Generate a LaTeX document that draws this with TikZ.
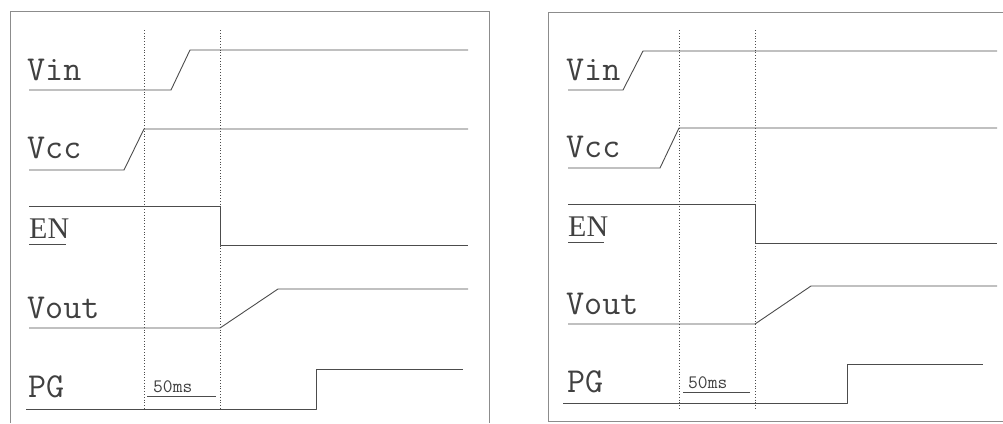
\documentclass[tikz,border=0pt]{standalone}
\usepackage{fontspec}
\setmainfont{Liberation Serif}
\usepackage{tikz}

\begin{document}
\begin{tikzpicture}[
  x=1pt,
  y=-1pt,
  frame/.style={draw=black!45,line width=1pt},
  wave/.style={draw=black!70,line width=0.9pt,line join=round},
  guide/.style={draw=black!70,line width=0.8pt,dotted},
  sig/.style={font=\ttfamily\fontsize{35}{35}\selectfont,text=black!75,anchor=base west,inner sep=0pt},
  enlab/.style={font=\fontsize{30}{30}\selectfont,text=black!75,anchor=base west,inner sep=0pt},
  tlab/.style={font=\ttfamily\fontsize{19}{19}\selectfont,text=black!75,anchor=base west,inner sep=0pt}
]
\useasboundingbox (0,0) rectangle (1003,423);

% left panel
\draw[frame] (10,423) -- (10,11) -- (489,11) -- (489,423);
\foreach \x in {144,220} {
  \draw[guide] (\x,30) -- (\x,410);
}
\node[sig] (vinA) at (27,80) {Vin};
\node[sig] (vccA) at (27,158) {Vcc};
\node[enlab] (enA) at (29,238) {EN};
\node[sig] (voutA) at (27,318) {Vout};
\node[sig] (pgA) at (28,397) {PG};
\draw[wave] (29,244) -- (66,244);
\draw[wave] (29,90) -- (171,90) -- (190,50) -- (468,50);
\draw[wave] (29,170) -- (124,170) -- (144,129) -- (468,129);
\draw[wave] (29,206) -- (220,206) -- (220,245) -- (468,245);
\draw[wave] (29,328) -- (220,328) -- (278,289) -- (468,289);
\draw[wave] (26,409) -- (316,409) -- (316,369) -- (463,369);
\node[tlab] (msA) at (153,392) {50ms};
\draw[wave,line width=0.8pt] (147,396) -- (216,396);

% right panel
\draw[frame] (1003,12) -- (548,12) -- (548,421) -- (1003,421);
\foreach \x in {679,755} {
  \draw[guide] (\x,30) -- (\x,410);
}
\node[sig] (vinB) at (566,80) {Vin};
\node[sig] (vccB) at (566,157) {Vcc};
\node[enlab] (enB) at (568,236) {EN};
\node[sig] (voutB) at (566,314) {Vout};
\node[sig] (pgB) at (567,392) {PG};
\draw[wave] (568,242) -- (604,242);
\draw[wave] (568,90) -- (623,90) -- (643,51) -- (997,51);
\draw[wave] (568,168) -- (660,168) -- (679,128) -- (997,128);
\draw[wave] (568,204) -- (755,204) -- (755,243) -- (997,243);
\draw[wave] (568,324) -- (755,324) -- (811,286) -- (997,286);
\draw[wave] (563,403) -- (847,403) -- (847,364) -- (983,364);
\node[tlab] (msB) at (688,388) {50ms};
\draw[wave,line width=0.8pt] (683,392) -- (750,392);
\end{tikzpicture}
\end{document}
